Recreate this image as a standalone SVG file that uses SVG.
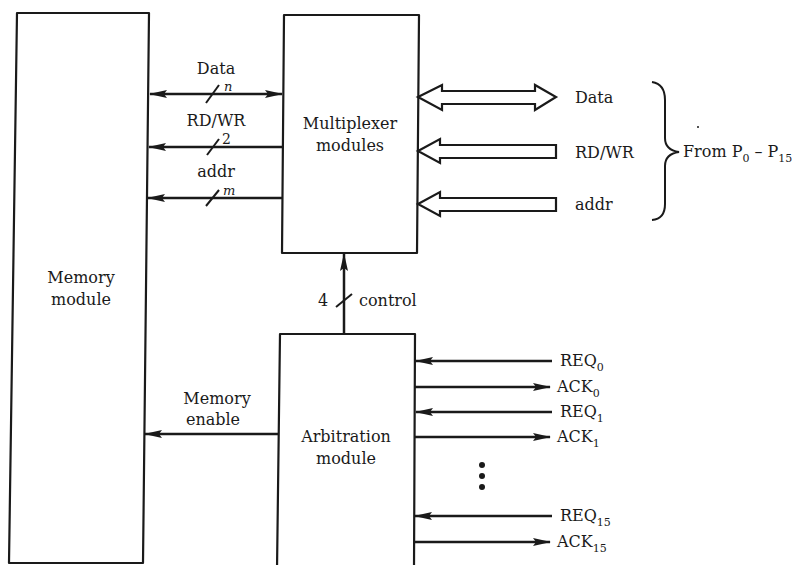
<svg xmlns="http://www.w3.org/2000/svg" width="803" height="565" viewBox="0 0 803 565">
<style>
.box{fill:none;stroke:#1a1a1a;stroke-width:2.2;stroke-linejoin:round}
.ln{fill:none;stroke:#1a1a1a;stroke-width:2.5}
.sl{fill:none;stroke:#1a1a1a;stroke-width:2}
.hol{fill:#fff;stroke:#1a1a1a;stroke-width:2.2;stroke-linejoin:miter}
text{font-family:"DejaVu Serif","Liberation Serif",serif;font-size:16px;fill:#1a1a1a}
.c{text-anchor:middle}
.sub{font-size:11px}
.it{font-style:italic;font-size:13px}
</style>
<defs>
<marker id="ah" viewBox="0 0 18 9" refX="17" refY="4.5" markerWidth="18" markerHeight="9" orient="auto-start-reverse" markerUnits="userSpaceOnUse">
<path d="M0,0.5 L18,4.5 L0,8.5 L3,4.5 z" fill="#1a1a1a"/>
</marker>
</defs>
<rect width="803" height="565" fill="#fff"/>

<g id="memory">
<path class="box" d="M17,13 H149 L143,563 H9 Z"/>
<text class="c" x="81" y="283">Memory</text>
<text class="c" x="81" y="305">module</text>
</g>

<g id="multiplexer">
<path class="box" d="M284,15 H419 L417,253 H282 Z"/>
<text class="c" x="350" y="129">Multiplexer</text>
<text class="c" x="350" y="151">modules</text>
</g>

<g id="arbitration">
<path class="box" d="M277,570 L280,334 H415 L414,570"/>
<text class="c" x="346" y="442">Arbitration</text>
<text class="c" x="346" y="464">module</text>
</g>

<g id="connectors">
<line class="ln" x1="150" y1="94" x2="282" y2="94" marker-start="url(#ah)" marker-end="url(#ah)"/>
<line class="sl" x1="206" y1="103" x2="219" y2="85"/>
<text class="c" x="216" y="74">Data</text>
<text class="it" x="224" y="91">n</text>

<line class="ln" x1="282" y1="147" x2="149" y2="147" marker-end="url(#ah)"/>
<line class="sl" x1="207" y1="155" x2="219" y2="139"/>
<text class="c" x="216" y="126">RD/WR</text>
<text x="222" y="144" style="font-size:14px">2</text>

<line class="ln" x1="282" y1="198" x2="148" y2="198" marker-end="url(#ah)"/>
<line class="sl" x1="206" y1="206" x2="219" y2="190"/>
<text class="c" x="216" y="177">addr</text>
<text class="it" x="223" y="195">m</text>

<path class="hol" d="M418,97 L442,85 L442,91 L535,91 L535,85 L556,97 L535,110 L535,104 L442,104 L442,110 Z"/>
<path class="hol" d="M418,151 L440,139 L440,145 L556,145 L556,158 L440,158 L440,163 Z"/>
<path class="hol" d="M418,204 L440,192 L440,198 L556,198 L556,211 L440,211 L440,216 Z"/>
<text x="575" y="103">Data</text>
<text x="575" y="158">RD/WR</text>
<text x="575" y="210">addr</text>

<path class="sl" d="M652,82 Q665,84 665,100 L665,138 Q665,150 679,152 Q665,154 665,166 L665,204 Q665,219 652,220"/>
<text x="683" y="157">From P<tspan class="sub" dy="5">0</tspan><tspan dy="-5"> – P</tspan><tspan class="sub" dy="5">15</tspan></text>
<circle cx="698" cy="127" r="1" fill="#1a1a1a"/>

<line class="ln" x1="344" y1="334" x2="344" y2="254" marker-end="url(#ah)"/>
<line class="sl" x1="336" y1="307" x2="352" y2="294"/>
<text x="318" y="306">4</text>
<text x="359" y="306">control</text>

<line class="ln" x1="279" y1="434" x2="145" y2="434" marker-end="url(#ah)"/>
<text class="c" x="217" y="404">Memory</text>
<text class="c" x="213" y="425">enable</text>

<line class="ln" x1="552" y1="361" x2="416" y2="361" marker-end="url(#ah)"/>
<line class="ln" x1="415" y1="387" x2="550" y2="387" marker-end="url(#ah)"/>
<line class="ln" x1="552" y1="412" x2="416" y2="412" marker-end="url(#ah)"/>
<line class="ln" x1="415" y1="437" x2="550" y2="437" marker-end="url(#ah)"/>
<line class="ln" x1="552" y1="516" x2="415" y2="516" marker-end="url(#ah)"/>
<line class="ln" x1="414" y1="542" x2="550" y2="542" marker-end="url(#ah)"/>
<circle cx="482" cy="465" r="3" fill="#1a1a1a"/>
<circle cx="482" cy="476" r="3" fill="#1a1a1a"/>
<circle cx="482" cy="487" r="3" fill="#1a1a1a"/>
<text x="560" y="366">REQ<tspan class="sub" dy="5">0</tspan></text>
<text x="557" y="392">ACK<tspan class="sub" dy="5">0</tspan></text>
<text x="560" y="417">REQ<tspan class="sub" dy="5">1</tspan></text>
<text x="557" y="442">ACK<tspan class="sub" dy="5">1</tspan></text>
<text x="560" y="521">REQ<tspan class="sub" dy="5">15</tspan></text>
<text x="557" y="547">ACK<tspan class="sub" dy="5">15</tspan></text>
</g>
</svg>
